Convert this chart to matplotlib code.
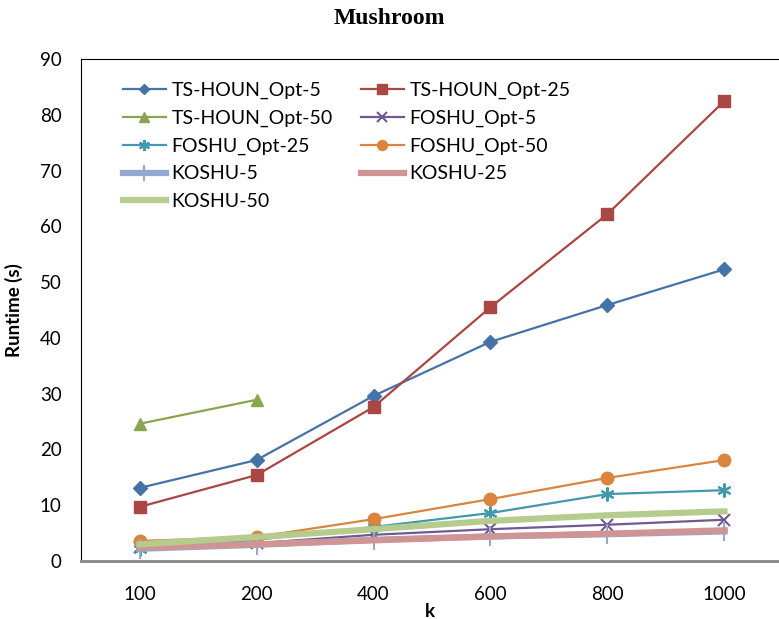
import matplotlib
matplotlib.use('Agg')
import matplotlib.pyplot as plt
import numpy as np

k_labels = ['100', '200', '400', '600', '800', '1000']

ts_houn_5 = [13.1, 18.1, 29.6, 39.3, 45.9, 52.3]
ts_houn_25 = [9.7, 15.4, 27.6, 45.5, 62.2, 82.5]
ts_houn_50 = [24.6, 28.9]
foshu_5 = [2.5, 3.2, 4.7, 5.7, 6.5, 7.4]
foshu_25 = [2.1, 3.8, 6.1, 8.6, 12.0, 12.7]
foshu_50 = [3.6, 4.3, 7.5, 11.1, 14.9, 18.1]
koshu_5 = [2.2, 2.9, 3.8, 4.4, 4.8, 5.3]
koshu_25 = [2.4, 3.0, 3.7, 4.4, 4.9, 5.5]
koshu_50 = [3.0, 4.3, 5.7, 7.2, 8.2, 8.9]

plt.rcParams['font.family'] = ['Lato', 'DejaVu Sans']

fig = plt.figure(figsize=(7.79, 6.19), dpi=100)
ax = fig.add_axes([0.104, 0.0937, 0.896, 0.811])

x = np.arange(len(k_labels))

ax.plot(x, ts_houn_5, color='#4572A7', marker='D', markersize=7, lw=1.6, label='TS-HOUN_Opt-5')
ax.plot(x, ts_houn_25, color='#AA4643', marker='s', markersize=9, lw=1.6, label='TS-HOUN_Opt-25')
ax.plot(x[:len(ts_houn_50)], ts_houn_50, color='#89A54E', marker='^', markersize=9, lw=1.6, label='TS-HOUN_Opt-50')
ax.plot(x, foshu_5, color='#71588F', marker='x', markersize=9, mew=1.5, lw=1.6, label='FOSHU_Opt-5')
ax.plot(x, foshu_25, color='#4198AF', marker=(6, 2, 0), markersize=10, mew=1.5, lw=1.6, label='FOSHU_Opt-25')
ax.plot(x, foshu_50, color='#DB843D', marker='o', markersize=9, lw=1.6, label='FOSHU_Opt-50')
ax.plot(x, koshu_5, color='#94A9D0', marker='|', markersize=14, mew=1.5, lw=4.5, label='KOSHU-5')
ax.plot(x, koshu_25, color='#D09494', lw=4.5, label='KOSHU-25')
ax.plot(x, koshu_50, color='#B5CC8E', lw=4.5, label='KOSHU-50')

ax.set_xlim(-0.5, 5.466)
ax.set_ylim(0, 90)
ax.set_yticks(range(0, 91, 10))
ax.set_xticks(x)
ax.set_xticklabels(k_labels)
ax.tick_params(axis='both', length=0, labelsize=13.5, colors='black')
ax.tick_params(axis='x', pad=18)
ax.tick_params(axis='y', pad=14)

ax.spines['right'].set_visible(False)
ax.spines['top'].set_color('black')
ax.spines['left'].set_color('black')
ax.spines['bottom'].set_color('#868686')
ax.spines['bottom'].set_linewidth(2)

ax.set_xlabel('k', fontsize=13.5, fontweight='bold', labelpad=0)
ax.set_ylabel('Runtime (s)', fontsize=13.5, fontweight='bold', labelpad=12)
fig.text(0.5, 0.97, 'Mushroom', ha='center', va='center', fontsize=17,
         fontweight='bold', family='Liberation Serif')

# excel fills the legend row by row
h, l = ax.get_legend_handles_labels()
order = [0, 2, 4, 6, 8, 1, 3, 5, 7]
ax.legend([h[i] for i in order], [l[i] for i in order], loc='upper left',
          bbox_to_anchor=(0.035, 0.99), ncol=2, frameon=False,
          fontsize=14, handlelength=2.2, columnspacing=1.45, labelspacing=0.55,
          handletextpad=0.3, markerscale=0.8)

fig.savefig('out.png', dpi=100)
